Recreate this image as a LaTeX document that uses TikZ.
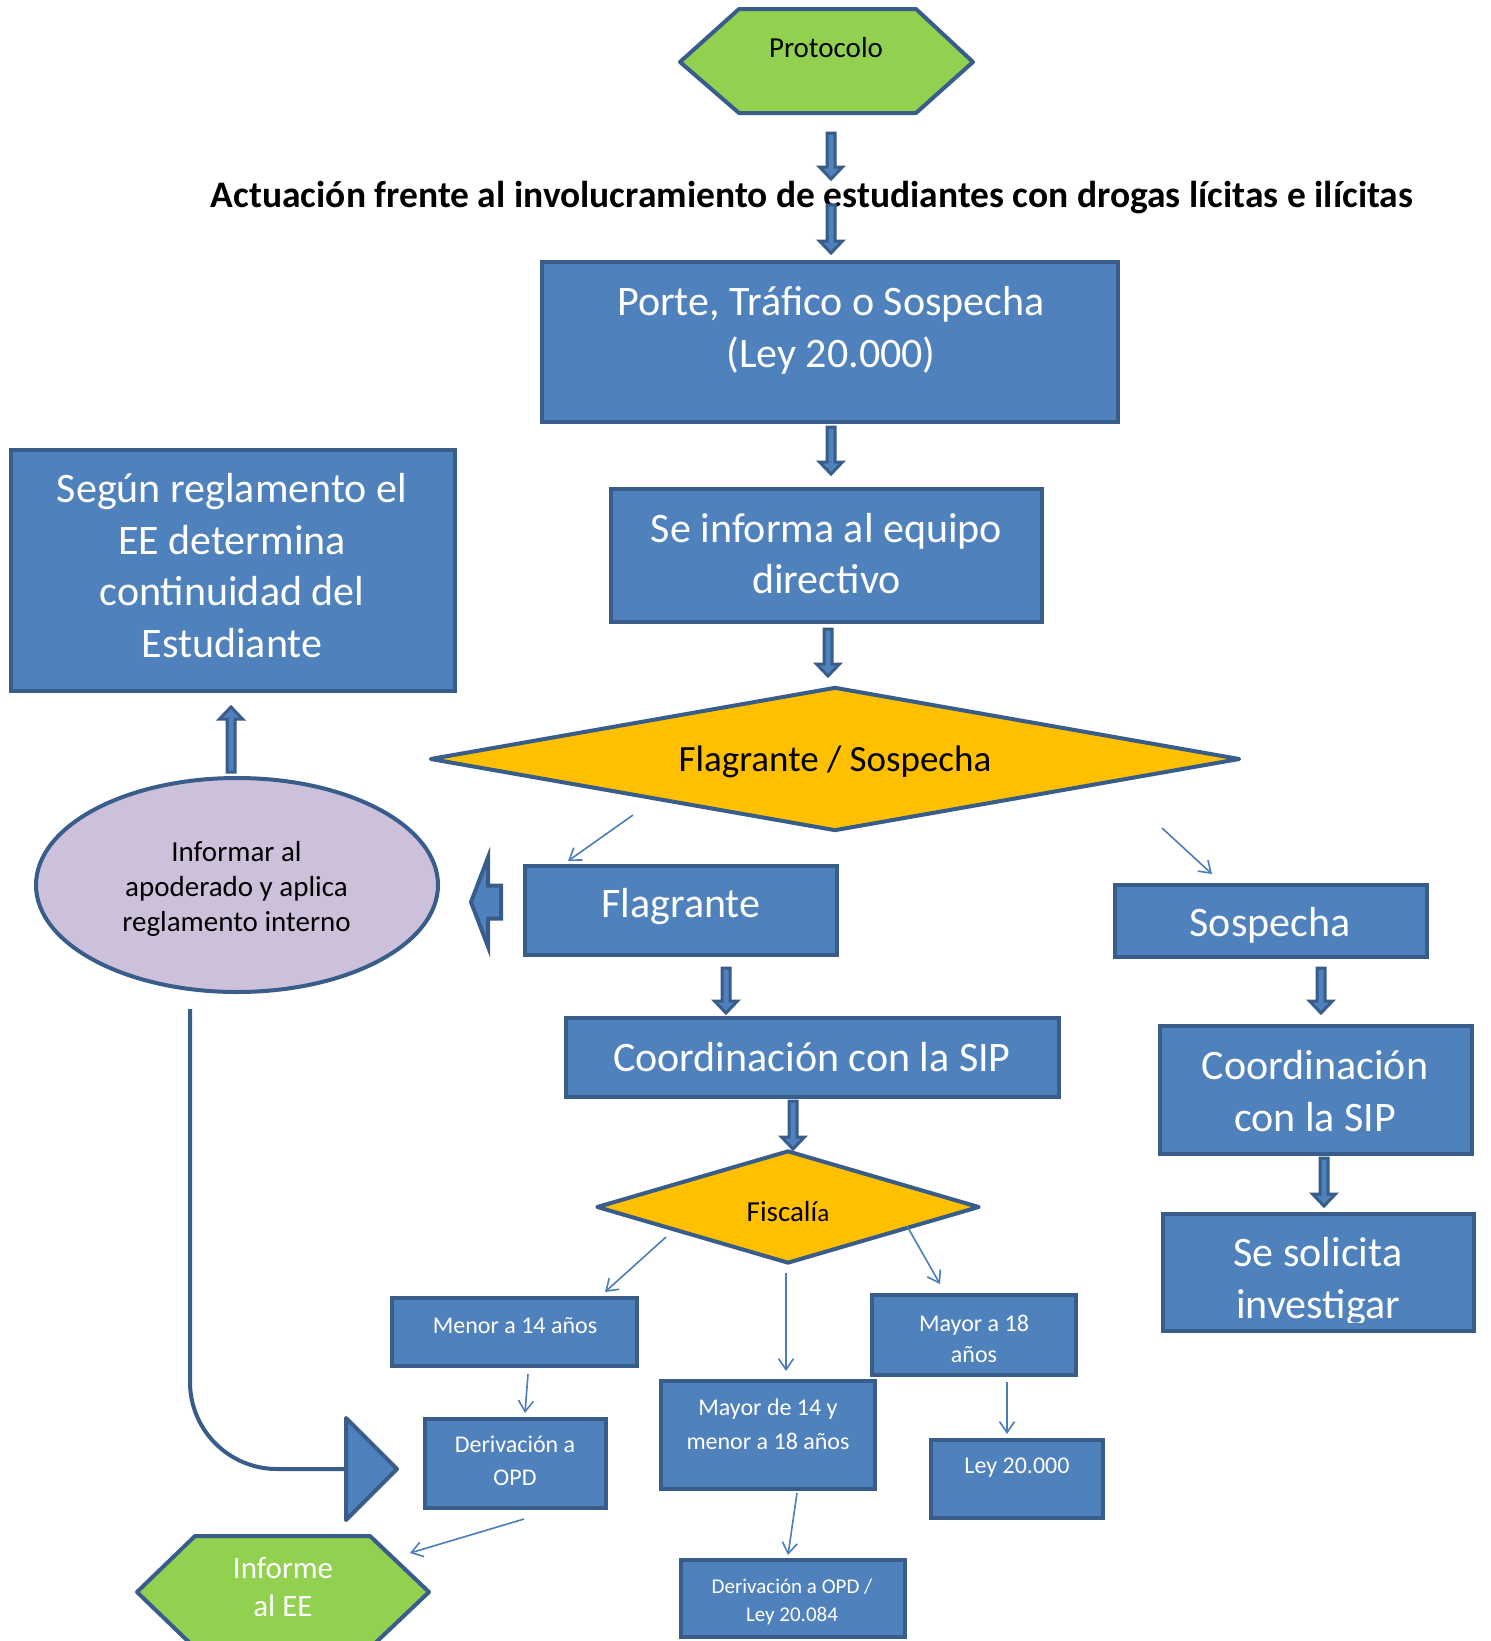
\documentclass[tikz,border=0pt]{standalone}
\usepackage{fontspec}
\setmainfont{Carlito}
\usetikzlibrary{shapes.geometric,arrows.meta,calc,fit}
\definecolor{boxblue}{HTML}{4F81BD}
\definecolor{edgeblue}{HTML}{385D8A}
\definecolor{linkblue}{HTML}{4A7EBB}
\definecolor{leafgreen}{HTML}{92D050}
\definecolor{amber}{HTML}{FFC000}
\definecolor{lilac}{HTML}{CCC0DA}
\newcommand\fsz[2]{\fontsize{#1}{#2}\selectfont}

\begin{document}
\begin{tikzpicture}[x=1pt,y=-1pt,
  bluebox/.style={draw=edgeblue,fill=boxblue,line width=4pt,inner sep=0pt},
  hexa/.style={draw=edgeblue,fill=leafgreen,line width=4pt,line join=round},
  choice/.style={diamond,draw=edgeblue,fill=amber,line width=4pt,inner sep=0pt,line join=round},
  wlabel/.style={text=white,align=center,inner sep=0pt},
  klabel/.style={text=black,align=center,inner sep=0pt},
  link/.style={draw=linkblue,line width=1.6pt,-{Straight Barb[length=11pt,width=15pt]}},
  blockarrow/.style n args={3}{draw=edgeblue,fill=boxblue,line width=3pt,line join=miter,
    to path={
      ($(\tikztostart)!#1!90:(\tikztotarget)$) --
      ($(\tikztotarget)!#3!(\tikztostart)!#1!90:(\tikztotarget)$) --
      ($(\tikztotarget)!#3!(\tikztostart)!#2!90:(\tikztotarget)$) --
      (\tikztotarget) --
      ($(\tikztotarget)!#3!(\tikztostart)!#2!-90:(\tikztotarget)$) --
      ($(\tikztotarget)!#3!(\tikztostart)!#1!-90:(\tikztotarget)$) --
      ($(\tikztostart)!#1!-90:(\tikztotarget)$) -- cycle}},
  thickdown/.style={blockarrow={4pt}{11.5pt}{12pt}}
]
\useasboundingbox (0,0) rectangle (1491,1641);
\fill[white] (0,0) rectangle (1491,1641);

% ---- start terminal and heading
\filldraw[hexa] (680,62) -- (739,9) -- (916,9) -- (973,62) -- (916,113) -- (739,113) -- cycle;
\node[fit={(680,9)(973,113)},inner sep=0pt] (proto) {};
\node[klabel,font=\fsz{29}{35}] (protot) at (826,48) {Protocolo};

\node[klabel,font=\bfseries\fsz{37.5}{45}] (title) at (812,198)
  {Actuación frente al involucramiento de estudiantes con drogas lícitas e ilícitas};

% ---- main column
\node[bluebox,fit={(542,262)(1118,422)}] (porte) {};
\node[wlabel,font=\fsz{42}{52}] (portet) at (831,330) {Porte, Tráfico o Sospecha\\(Ley 20.000)};

\node[bluebox,fit={(611,489)(1042,622)}] (informa) {};
\node[wlabel,font=\fsz{42}{51}] (informat) at (826.5,554) {Se informa al equipo\\directivo};

\node[choice,minimum width=810pt,minimum height=144pt] (fs) at (835,759) {};
\node[klabel,font=\fsz{37}{44}] (fst) at (835,762) {Flagrante / Sospecha};

% ---- left side
\node[bluebox,fit={(11,450)(455,691)}] (segun) {};
\node[wlabel,font=\fsz{42}{51.7}] (segunt) at (232,565.5)
  {Según reglamento el\\EE determina\\continuidad del\\Estudiante};

\node[ellipse,draw=edgeblue,fill=lilac,line width=4pt,minimum width=402pt,minimum height=214pt,inner sep=0pt] (info) at (237,885) {};
\node[klabel,font=\fsz{29}{35}] (infot) at (236.5,889) {Informar al\\apoderado y aplica\\reglamento interno};

% ---- flagrante branch
\node[bluebox,fit={(525,866)(837,955)}] (flag) {};
\node[wlabel,font=\fsz{42}{51}] (flagt) at (681,907) {Flagrante};

\node[bluebox,fit={(566,1018)(1059,1097)}] (coordm) {};
\node[wlabel,font=\fsz{42}{51}] (coordmt) at (812,1057) {Coordinación con la SIP};

\node[choice,minimum width=383pt,minimum height=113pt] (fisc) at (788,1207) {};
\node[klabel,font=\fsz{29}{35}] (fisct) at (788,1212) {Fiscalí{\fsz{25}{30}a}};

\node[bluebox,fit={(392,1298)(637,1366)}] (menor) {};
\node[wlabel,font=\fsz{24}{31}] (menort) at (515,1326) {Menor a 14 años};

\node[bluebox,fit={(872,1295)(1076,1375)}] (may18) {};
\node[wlabel,font=\fsz{24}{31}] (may18t) at (974,1339) {Mayor a 18\\años};

\node[bluebox,fit={(661,1381)(875,1489)}] (may14) {};
\node[wlabel,font=\fsz{24}{34}] (may14t) at (768,1424) {Mayor de 14 y\\menor a 18 años};

\node[bluebox,fit={(425,1419)(606,1508)}] (dopd) {};
\node[wlabel,font=\fsz{24}{33}] (dopdt) at (515,1461) {Derivación a\\OPD};

\node[bluebox,fit={(931,1440)(1103,1518)}] (ley) {};
\node[wlabel,font=\fsz{24}{31}] (leyt) at (1017,1468) {Ley 20.000};

\node[bluebox,fit={(681,1560)(905,1637)}] (dley) {};
\node[wlabel,font=\fsz{21}{28}] (dleyt) at (792,1602) {Derivación a OPD /\\Ley 20.084};

% ---- end terminal
\filldraw[hexa] (137,1592) -- (195,1536) -- (370,1536) -- (429,1592) -- (370,1648) -- (195,1648) -- cycle;
\node[fit={(137,1536)(429,1648)},inner sep=0pt] (informe) {};
\node[wlabel,font=\fsz{31}{38}] (informet) at (283,1587) {Informe\\al EE};

% ---- sospecha branch
\node[bluebox,fit={(1115,885)(1427,957)}] (sosp) {};
\node[wlabel,font=\fsz{42}{51}] (sospt) at (1270,925) {Sospecha};

\node[bluebox,fit={(1160,1026)(1472,1154)}] (coordr) {};
\node[wlabel,font=\fsz{42}{52}] (coordrt) at (1315,1091) {Coordinación\\con la SIP};

\node[bluebox,fit={(1163,1214)(1474,1331)}] (solic) {};
\begin{scope}
  \clip (1163,1214) rectangle (1474,1322);
  \node[wlabel,font=\fsz{42}{52}] (solict) at (1318,1282) {Se solicita\\investigar};
\end{scope}

% ---- block arrows (start and tip of each)
\coordinate (protoOut) at (831,133);  \coordinate (titleIn) at (831,179);
\coordinate (titleOut) at (831,205);  \coordinate (porteIn) at (831,253);
\coordinate (porteOut) at (831,427);  \coordinate (informaIn) at (831,474);
\coordinate (informaOut) at (828,629); \coordinate (fsIn) at (828,676);
\coordinate (infoOut) at (231,772);   \coordinate (segunIn) at (231,707);
\coordinate (flagOutL) at (501,902);  \coordinate (infoIn) at (471,902);
\coordinate (flagOut) at (726,968);   \coordinate (coordmIn) at (726,1013);
\coordinate (sospOut) at (1321,968);  \coordinate (coordrIn) at (1321,1013);
\coordinate (coordrOut) at (1324,1158); \coordinate (solicIn) at (1324,1206);
\coordinate (coordmOut) at (793,1101); \coordinate (fiscIn) at (793,1149);
\draw[thickdown] (protoOut) to (titleIn);
\draw[thickdown] (titleOut) to (porteIn);
\draw[thickdown] (porteOut) to (informaIn);
\draw[thickdown] (informaOut) to (fsIn);
\draw[thickdown] (infoOut) to (segunIn);
\draw[blockarrow={16.5pt}{44.5pt}{17pt},line width=4pt] (flagOutL) to (infoIn);
\draw[thickdown] (flagOut) to (coordmIn);
\draw[thickdown] (sospOut) to (coordrIn);
\draw[thickdown] (coordrOut) to (solicIn);
\draw[thickdown] (coordmOut) to (fiscIn);

% ---- return path to the derivation box
\coordinate (loopstart) at (190,1009);
\coordinate (loopend) at (346,1469);
\draw[edgeblue,line width=4pt,rounded corners=87pt] (loopstart) |- (loopend);
\filldraw[draw=edgeblue,fill=boxblue,line width=4pt,line join=round]
  (loopend) -- ([yshift=51pt]loopend) -- ([xshift=51pt]loopend) -- ([yshift=-51pt]loopend) -- cycle;

% ---- thin connectors
\coordinate (fsL) at (633,815);   \coordinate (flagIn) at (568,861);
\coordinate (fsR) at (1162,828);  \coordinate (sospIn) at (1212,874);
\coordinate (fiL) at (666,1237);  \coordinate (menorIn) at (605,1292);
\coordinate (fiM) at (786,1273);  \coordinate (may14In) at (786,1371);
\coordinate (fiR) at (907,1226);  \coordinate (may18In) at (940,1284);
\coordinate (menorOut) at (528,1374); \coordinate (dopdIn) at (525,1413);
\coordinate (may14Out) at (797,1493); \coordinate (dleyIn) at (788,1555);
\coordinate (may18Out) at (1007,1382); \coordinate (leyIn) at (1007,1434);
\coordinate (dopdOut) at (524,1519); \coordinate (informeIn) at (410,1553);
\draw[link] (fsL) -- (flagIn);
\draw[link] (fsR) -- (sospIn);
\draw[link] (fiL) -- (menorIn);
\draw[link] (fiM) -- (may14In);
\draw[link] (fiR) -- (may18In);
\draw[link] (menorOut) -- (dopdIn);
\draw[link] (may14Out) -- (dleyIn);
\draw[link] (may18Out) -- (leyIn);
\draw[link] (dopdOut) -- (informeIn);
\end{tikzpicture}
\end{document}
